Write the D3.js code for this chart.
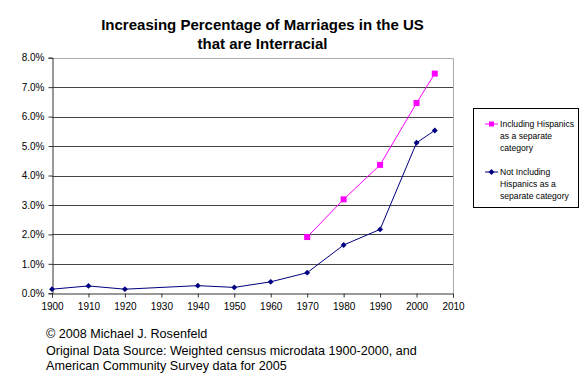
<!DOCTYPE html>
<html><head><meta charset="utf-8">
<script src="https://cdn.jsdelivr.net/npm/d3@7/dist/d3.min.js"></script>
<style>body{margin:0;background:#fff}svg{display:block;font-family:Arial,"Liberation Sans",sans-serif}</style>
</head><body><svg id="c" width="585" height="382"></svg>
<script>
const xTicks = [1900,1910,1920,1930,1940,1950,1960,1970,1980,1990,2000,2010];
const yTicks = [0,1,2,3,4,5,6,7,8];
const yearsNot = [1900,1910,1920,1940,1950,1960,1970,1980,1990,2000,2005];
const valuesNot = [0.14,0.25,0.14,0.26,0.2,0.39,0.70,1.64,2.17,5.11,5.53];
const yearsInc = [1970,1980,1990,2000,2005];
const valuesInc = [1.91,3.19,4.36,6.46,7.46];
const seriesNames = ["Including Hispanics|as a separate|category","Not Including|Hispanics as a|separate category"];

const svg = d3.select("#c");
const x = d3.scaleLinear().domain([1900,2010]).range([52,453]);
const y = d3.scaleLinear().domain([0,8]).range([293.3,57.7]);

// title
svg.append("text").attr("x",262.5).attr("y",30).attr("text-anchor","middle").attr("font-size","15px").attr("font-weight","bold").text("Increasing Percentage of Marriages in the US");
svg.append("text").attr("x",262.5).attr("y",49).attr("text-anchor","middle").attr("font-size","15px").attr("font-weight","bold").text("that are Interracial");

// grid
svg.append("g").selectAll("line").data(yTicks.filter(d=>d>0 && d<8)).join("line")
  .attr("x1",x(1900)).attr("x2",x(2010)).attr("y1",d=>Math.round(y(d))+0.5).attr("y2",d=>Math.round(y(d))+0.5)
  .attr("stroke","#444").attr("stroke-width",1);
// border top/right
svg.append("path").attr("d",`M${x(1900)},${Math.round(y(8))+0.5}H${Math.round(x(2010))+0.5}V${Math.round(y(0))}`)
  .attr("fill","none").attr("stroke","#aaa").attr("stroke-width",1);

// axes
const yAxis = d3.axisLeft(y).tickValues(yTicks).tickFormat(d=>d.toFixed(1)+"%").tickSize(4).tickPadding(4);
const gy = svg.append("g").attr("transform",`translate(${Math.round(x(1900))+0.5},0)`).call(yAxis);
const xAxis = d3.axisBottom(x).tickValues(xTicks).tickFormat(d3.format("d")).tickSize(4).tickPadding(5);
const gx = svg.append("g").attr("transform",`translate(0,${Math.round(y(0))+0.5})`).call(xAxis);
[gx,gy].forEach(g=>{
  g.select(".domain").attr("stroke","#333");
  g.selectAll(".tick line").attr("stroke","#333");
  g.selectAll(".tick text").attr("font-size","10px").attr("fill","#000").attr("font-family","Arial,'Liberation Sans',sans-serif");
});

// lines
const line = d3.line().x(d=>x(d[0])).y(d=>y(d[1]));
const dNot = yearsNot.map((t,i)=>[t,valuesNot[i]]);
const dInc = yearsInc.map((t,i)=>[t,valuesInc[i]]);
svg.append("path").datum(dNot).attr("d",line).attr("fill","none").attr("stroke","#000080").attr("stroke-width",1);
svg.append("path").datum(dInc).attr("d",line).attr("fill","none").attr("stroke","#FF00FF").attr("stroke-width",1);
const diamond = d3.symbol().type(d3.symbolDiamond2).size(22);
svg.append("g").selectAll("path").data(dNot).join("path").attr("d",diamond)
  .attr("transform",d=>`translate(${x(d[0])},${y(d[1])})`).attr("fill","#000080");
svg.append("g").selectAll("rect").data(dInc).join("rect")
  .attr("x",d=>x(d[0])-3).attr("y",d=>y(d[1])-3).attr("width",6).attr("height",6).attr("fill","#FF00FF");

// legend
svg.append("rect").attr("x",473.5).attr("y",108.5).attr("width",105).attr("height",99).attr("fill","#fff").attr("stroke","#000").attr("stroke-width",1);
const leg = [{c:"#FF00FF",sq:true,y:124},{c:"#000080",sq:false,y:172}];
leg.forEach((l,i)=>{
  svg.append("line").attr("x1",485).attr("x2",498).attr("y1",l.y).attr("y2",l.y).attr("stroke",l.c).attr("stroke-width",1);
  if(l.sq) svg.append("rect").attr("x",489).attr("y",l.y-2.5).attr("width",5).attr("height",5).attr("fill",l.c);
  else svg.append("path").attr("d",diamond).attr("transform",`translate(491.5,${l.y})`).attr("fill",l.c);
  seriesNames[i].split("|").forEach((s,j)=>{
    svg.append("text").attr("x",500).attr("y",l.y+3+j*12).attr("font-size","8.6px").attr("fill","#000").text(s);
  });
});

// footer
const foot = ["© 2008 Michael J. Rosenfeld","Original Data Source: Weighted census microdata 1900-2000, and","American Community Survey data for 2005"];
const footY = [338,355,370];
foot.forEach((s,i)=>svg.append("text").attr("x",46).attr("y",footY[i]).attr("font-size","12.6px").attr("fill","#000").text(s));
</script></body></html>
